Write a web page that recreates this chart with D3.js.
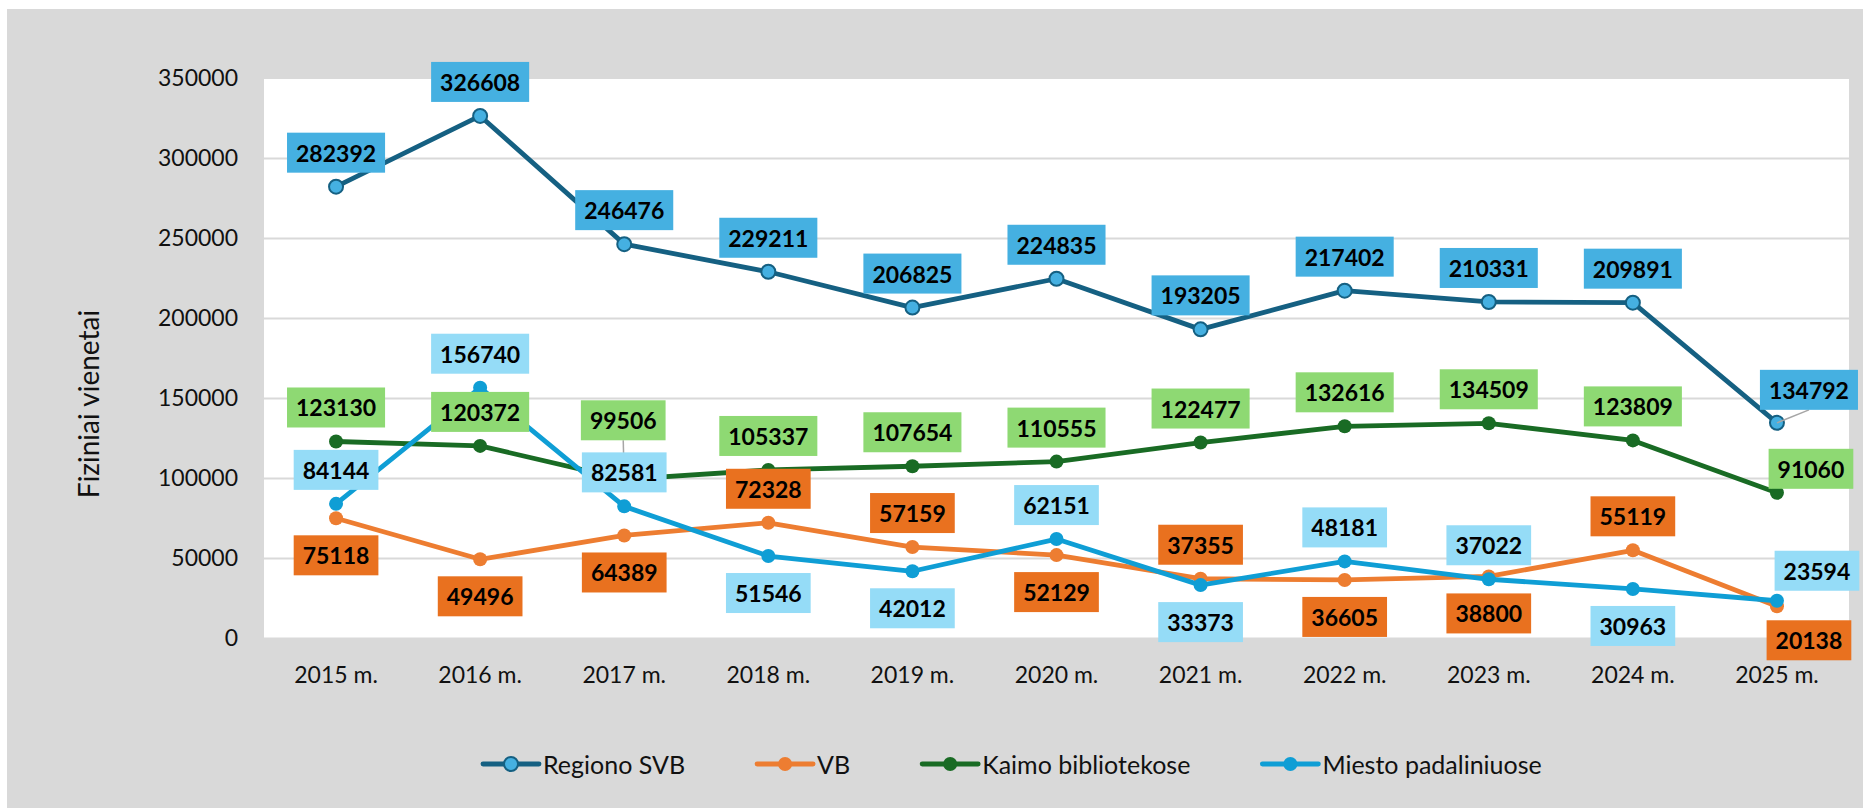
<!DOCTYPE html>
<html>
<head>
<meta charset="utf-8">
<script src="https://cdn.jsdelivr.net/npm/d3@7"></script>
<style>
  html, body { margin: 0; padding: 0; background: #fff; }
  svg { display: block; font-family: Lato, "Open Sans", sans-serif; }
</style>
</head>
<body>
<svg id="chart" width="1863" height="808"></svg>
<script>
// ----------

const YEARS = ["2015 m.", "2016 m.", "2017 m.", "2018 m.", "2019 m.", "2020 m.",
  "2021 m.", "2022 m.", "2023 m.", "2024 m.", "2025 m."];
const REGIONO_SVB = [282392, 326608, 246476, 229211, 206825, 224835, 193205, 217402, 210331, 209891, 134792];
const VB = [75118, 49496, 64389, 72328, 57159, 52129, 37355, 36605, 38800, 55119, 20138];
const KAIMO = [123130, 120372, 99506, 105337, 107654, 110555, 122477, 132616, 134509, 123809, 91060];
const MIESTO = [84144, 156740, 82581, 51546, 42012, 62151, 33373, 48181, 37022, 30963, 23594];
const Y_TICKS = [0, 50000, 100000, 150000, 200000, 250000, 300000, 350000];
const SERIES_NAMES = ["Regiono SVB", "VB", "Kaimo bibliotekose", "Miesto padaliniuose"];
const Y_TITLE = "Fiziniai vienetai";

// where each data label sits relative to its point
const LABEL_POS = [
  ["t", "t", "t", "t", "t", "t", "t", "t", "t", "t", "tr"],
  ["b", "b", "b", "t", "t", "b", "t", "b", "b", "t", "br"],
  ["t", "t", "tt", "t", "t", "t", "t", "t", "t", "t", "r"],
  ["t", "t", "t", "b", "b", "t", "b", "t", "t", "b", "rr"]
];
const OFFSETS = {
  t: { dx: 0, dy: -34 },
  b: { dx: 0, dy: 37 },
  tt: { dx: -1, dy: -59, leader: true },
  tr: { dx: 32, dy: -33, leader: true },
  r: { dx: 34, dy: -24 },
  br: { dx: 32, dy: 34 },
  rr: { dx: 40, dy: -30 }
};

const STYLES = [
  { line: "#156082", marker: "#45B0E1", markerStroke: "#156082", box: "#45B0E1" },
  { line: "#ED7D31", marker: "#ED7D31", markerStroke: null, box: "#E9711F" },
  { line: "#196B24", marker: "#196B24", markerStroke: null, box: "#8ED973" },
  { line: "#0F9ED5", marker: "#0F9ED5", markerStroke: null, box: "#95DCF7" }
];

const BG = "#D9D9D9";
const GRID = "#D9D9D9";
const FONT_SIZE = 23;
const LEGEND_FONT_SIZE = 25;
const TITLE_FONT_SIZE = 28;

const PLOT = { left: 264, right: 1849, top: 79, bottom: 639 };

// ----------

const svg = d3.select("#chart");

svg.append("rect").attr("x", 7).attr("y", 9).attr("width", 1863 - 7).attr("height", 808 - 9).attr("fill", BG);
svg.append("rect")
  .attr("x", PLOT.left).attr("y", PLOT.top)
  .attr("width", PLOT.right - PLOT.left).attr("height", PLOT.bottom - PLOT.top)
  .attr("fill", "#fff");

const x = d3.scaleBand().domain(YEARS).range([PLOT.left, PLOT.right]);
const y = d3.scaleLinear().domain([0, 350000]).range([638.5, 78.5]);
const cx = (d, i) => x(YEARS[i]) + x.bandwidth() / 2;

// gridlines
svg.append("g")
  .selectAll("line")
  .data(Y_TICKS.filter(v => v < 350000))
  .enter()
  .append("line")
  .attr("x1", PLOT.left).attr("x2", PLOT.right)
  .attr("y1", d => y(d)).attr("y2", d => y(d))
  .attr("stroke", GRID).attr("stroke-width", 2);

// y axis
const yAxis = svg.append("g")
  .attr("transform", "translate(" + PLOT.left + ",0)")
  .call(d3.axisLeft(y).tickValues(Y_TICKS).tickSize(0).tickPadding(26).tickFormat(d3.format("d")));
yAxis.select(".domain").remove();
yAxis.selectAll("text").attr("font-size", FONT_SIZE).attr("font-family", "Lato").attr("fill", "#111");

// x axis
const xAxis = svg.append("g")
  .attr("transform", "translate(0," + PLOT.bottom + ")")
  .call(d3.axisBottom(x).tickSize(0));
xAxis.select(".domain").remove();
xAxis.selectAll("text")
  .attr("y", 36).attr("dy", "0.35em")
  .attr("font-size", FONT_SIZE).attr("font-family", "Lato").attr("fill", "#111");

// y title
svg.append("text")
  .attr("transform", "translate(88,404) rotate(-90)")
  .attr("text-anchor", "middle")
  .attr("dominant-baseline", "central")
  .attr("font-size", TITLE_FONT_SIZE)
  .attr("fill", "#111")
  .text(Y_TITLE);

// ----------

const allSeries = [REGIONO_SVB, VB, KAIMO, MIESTO];

const line = d3.line().x(cx).y(d => y(d));

allSeries.forEach(function (values, s) {
  let st = STYLES[s];
  svg.append("path")
    .datum(values)
    .attr("d", line)
    .attr("fill", "none")
    .attr("stroke", st.line)
    .attr("stroke-width", 4.8)
    .attr("stroke-linejoin", "round")
    .attr("stroke-linecap", "round");

  svg.append("g")
    .selectAll("circle")
    .data(values)
    .enter()
    .append("circle")
    .attr("cx", cx)
    .attr("cy", d => y(d))
    .attr("r", 7)
    .attr("fill", st.marker)
    .attr("stroke", st.markerStroke || "none")
    .attr("stroke-width", 2);
});

// data labels go on top of every line
const labelLayer = svg.append("g");
allSeries.forEach(function (values, s) {
  values.forEach(function (v, i) {
    let off = OFFSETS[LABEL_POS[s][i]];
    let px = cx(v, i), py = y(v);
    let lx = px + off.dx, ly = py + off.dy;

    let g = labelLayer.append("g");
    let text = g.append("text")
      .attr("x", lx).attr("y", ly)
      .attr("text-anchor", "middle")
      .attr("dominant-baseline", "central")
      .attr("font-size", FONT_SIZE)
      .attr("font-weight", "bold")
      .attr("fill", "#000")
      .text(v);
    let w = text.node().getComputedTextLength() + 18;
    let h = 40;

    if (off.leader) {
      g.insert("line", "text")
        .attr("x1", px).attr("y1", py)
        .attr("x2", lx).attr("y2", ly + (off.dy < 0 ? h / 2 : -h / 2))
        .attr("stroke", "#A6A6A6").attr("stroke-width", 1.5);
    }
    g.insert("rect", "text")
      .attr("x", lx - w / 2).attr("y", ly - h / 2)
      .attr("width", w).attr("height", h)
      .attr("fill", STYLES[s].box);
  });
});

// ----------
// legend

const legend = svg.append("g").attr("transform", "translate(483,764)");
let lx = 0;
SERIES_NAMES.forEach(function (name, s) {
  let st = STYLES[s];
  let item = legend.append("g").attr("transform", "translate(" + lx + ",0)");
  item.append("line")
    .attr("x1", 0).attr("x2", 56).attr("y1", 0).attr("y2", 0)
    .attr("stroke", st.line).attr("stroke-width", 4.8).attr("stroke-linecap", "round");
  item.append("circle")
    .attr("cx", 28).attr("cy", 0).attr("r", 7)
    .attr("fill", st.marker)
    .attr("stroke", st.markerStroke || "none").attr("stroke-width", 2);
  let t = item.append("text")
    .attr("x", 60).attr("y", 0)
    .attr("dominant-baseline", "central")
    .attr("font-size", LEGEND_FONT_SIZE)
    .attr("fill", "#111")
    .text(name);
  lx += 60 + t.node().getComputedTextLength() + 72;
});
</script>
</body>
</html>
